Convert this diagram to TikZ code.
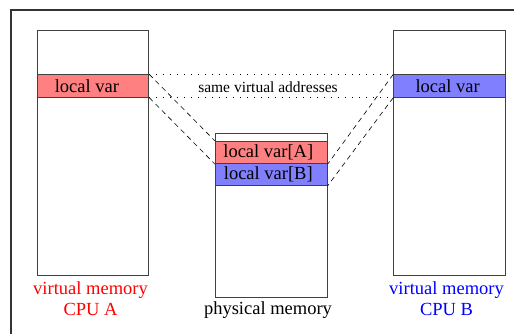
\documentclass[tikz,border=0pt]{standalone}
\usepackage{fontspec}
\setmainfont{Liberation Serif}
\definecolor{varred}{HTML}{FF8080}
\definecolor{varblue}{HTML}{8080FF}
\definecolor{labred}{HTML}{FF0000}
\definecolor{labblue}{HTML}{0000FF}
\begin{document}
\begin{tikzpicture}[x=1pt,y=-1pt,
  mem/.style={draw=black!75, line width=0.9pt, fill=white, inner sep=0pt, anchor=north west},
  memband/.style={mem, minimum width=111.8pt},
  txt/.style={inner sep=0pt, font=\fontsize{18.5}{21}\selectfont},
  smalltxt/.style={inner sep=0pt, font=\fontsize{15.5}{17}\selectfont},
  caption/.style={txt, align=center},
  same/.style={draw=black, line width=0.8pt, dash pattern=on 0.9pt off 6.1pt},
  maplink/.style={draw=black, line width=0.6pt, dash pattern=on 5pt off 4pt},
  frameline/.style={draw=black!80, line width=1.3pt}]
\useasboundingbox (0,0) rectangle (515,334);

% outer frame
\draw[frameline] (11,334) -- (11,10) -- (514,10);

% virtual memory of CPU A
\node[mem, minimum width=111.8pt, minimum height=245.3pt] (vmA) at (36.5,29.7) {};
\node[memband, fill=varred, minimum height=22.4pt] (varA) at (36.5,74.3) {};
\node[txt] (varAtext) at ([xshift=-6pt]varA.center) {local var};
\node[caption, text=labred] (capA) at (90.5,298.5) {virtual memory\\CPU A};

% virtual memory of CPU B
\node[mem, minimum width=111.7pt, minimum height=245.3pt] (vmB) at (393.3,29.7) {};
\node[memband, minimum width=111.7pt, fill=varblue, minimum height=22.4pt] (varB) at (393.3,74.3) {};
\node[txt] (varBtext) at ([xshift=-2pt]varB.center) {local var};
\node[caption, text=labblue] (capB) at (446.5,298.5) {virtual memory\\CPU B};

% physical memory
\node[mem, minimum width=111.7pt, minimum height=164.6pt] (phys) at (215,132.7) {};
\node[memband, minimum width=111.7pt, fill=varred, minimum height=22.3pt] (physA) at (215,141) {};
\node[memband, minimum width=111.7pt, fill=varblue, minimum height=21.7pt] (physB) at (215,163.3) {};
\node[txt] (physAtext) at ([xshift=-3pt]physA.center) {local var[A]};
\node[txt] (physBtext) at ([xshift=-3pt]physB.center) {local var[B]};
\node[txt] (capP) at (268,310) {physical memory};

% same virtual addresses on both CPUs
\draw[same] (varA.north east) -- (varB.north west);
\draw[same] (varA.south east) -- (varB.south west);
\node[smalltxt, fill=white, inner xsep=2pt] (samelabel) at (268,87.3) {same virtual addresses};

% mapping onto physical memory
\draw[maplink] (varA.north east) -- (physA.north west);
\draw[maplink] (varA.south east) -- (physA.south west);
\draw[maplink] (varB.north west) -- (physA.south east);
\draw[maplink] (varB.south west) -- (physB.south east);
\end{tikzpicture}
\end{document}
